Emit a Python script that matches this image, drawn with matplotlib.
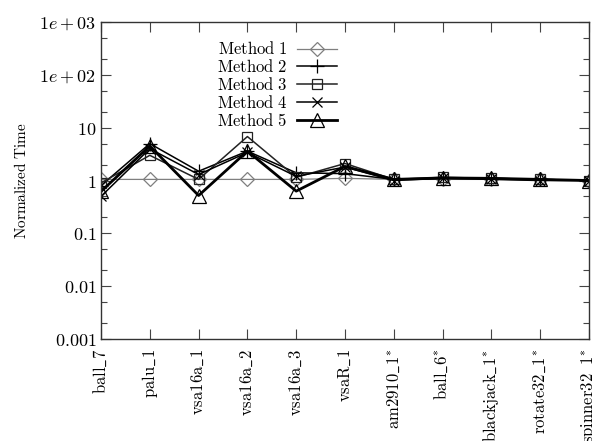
import matplotlib
matplotlib.use("Agg")
import matplotlib.pyplot as plt
import numpy as np
from matplotlib.ticker import FixedLocator, NullFormatter

plt.rcParams['mathtext.fontset'] = 'cm'
plt.rcParams['font.family'] = 'serif'

categories = ["ball_7", "palu_1", "vsa16a_1", "vsa16a_2", "vsa16a_3", "vsaR_1",
              "am2910_1*", "ball_6*", "blackjack_1*", "rotate32_1*", "spinner32_1*"]

method1 = [1.05, 1.05, 1.05, 1.05, 1.05, 1.1, 1.05, 1.05, 1.05, 1.05, 1.0]
method2 = [0.8, 5.0, 1.5, 3.6, 1.4, 1.35, 1.05, 1.1, 1.1, 1.05, 1.0]
method3 = [0.9, 3.0, 1.05, 6.8, 1.15, 2.1, 1.05, 1.15, 1.1, 1.05, 1.0]
method4 = [0.5, 4.0, 1.3, 3.4, 1.2, 1.8, 1.0, 1.1, 1.05, 1.0, 1.0]
method5 = [0.62, 4.5, 0.52, 3.6, 0.63, 1.85, 1.05, 1.12, 1.1, 1.05, 1.0]

methods = ["Method 1", "Method 2", "Method 3", "Method 4", "Method 5"]
series = [method1, method2, method3, method4, method5]
markers = ["D", "+", "s", "x", "^"]
colors = ["#7f7f7f", "black", "#222222", "black", "black"]
widths = [0.9, 1.1, 1.1, 1.1, 2.0]
msizes = [7, 10, 7, 7, 10]


def tex(s):
    # category / legend text in Computer Modern roman
    star = s.endswith("*")
    s = s.rstrip("*").replace("_", r"\_").replace(" ", r"\ ")
    return r"$\mathrm{" + s + "}" + ("^{*}" if star else "") + "$"


fig = plt.figure(figsize=(5.92, 4.41), dpi=100)
ax = fig.add_axes([0.1706, 0.2313, 0.8244, 0.7187])

x = np.arange(len(categories))
for vals, name, m, c, lw, ms in zip(series, methods, markers, colors, widths, msizes):
    ax.plot(x, vals, color=c, lw=lw, marker=m, markersize=ms,
            markerfacecolor='none', markeredgecolor=c, markeredgewidth=0.9,
            label=tex(name))

ax.set_yscale('log')
ax.set_ylim(0.001, 1000)
ax.set_xlim(0, len(categories) - 1)

yt = [0.001, 0.01, 0.1, 1, 10, 100, 1000]
ylabels = ["0.001", "0.01", "0.1", "1", "10", "1e+02", "1e+03"]
ax.yaxis.set_major_locator(FixedLocator(yt))
ax.set_yticklabels(["$" + l + "$" for l in ylabels], fontsize=13)
minors = [b * m for b in yt[:-1] for m in (2, 5)]
ax.yaxis.set_minor_locator(FixedLocator(minors))
ax.yaxis.set_minor_formatter(NullFormatter())

ax.set_xticks(x)
ax.set_xticklabels([tex(c) for c in categories], rotation=90, fontsize=12)

ax.tick_params(which='both', direction='in', top=True, right=True, color='#444444')
ax.tick_params(which='major', length=7, width=0.8)
ax.tick_params(which='minor', length=4, width=0.8)
ax.tick_params(axis='x', pad=7)
for s in ax.spines.values():
    s.set_linewidth(1.0)
    s.set_color('#333333')

ax.set_ylabel(tex("Normalized Time"), fontsize=11, labelpad=7)

ax.legend(loc='upper left', bbox_to_anchor=(0.22, 0.965), frameon=False,
          markerfirst=False, fontsize=12, handlelength=2.4, labelspacing=0.05,
          handletextpad=0.6, borderpad=0)

fig.savefig("out.png", dpi=100)
